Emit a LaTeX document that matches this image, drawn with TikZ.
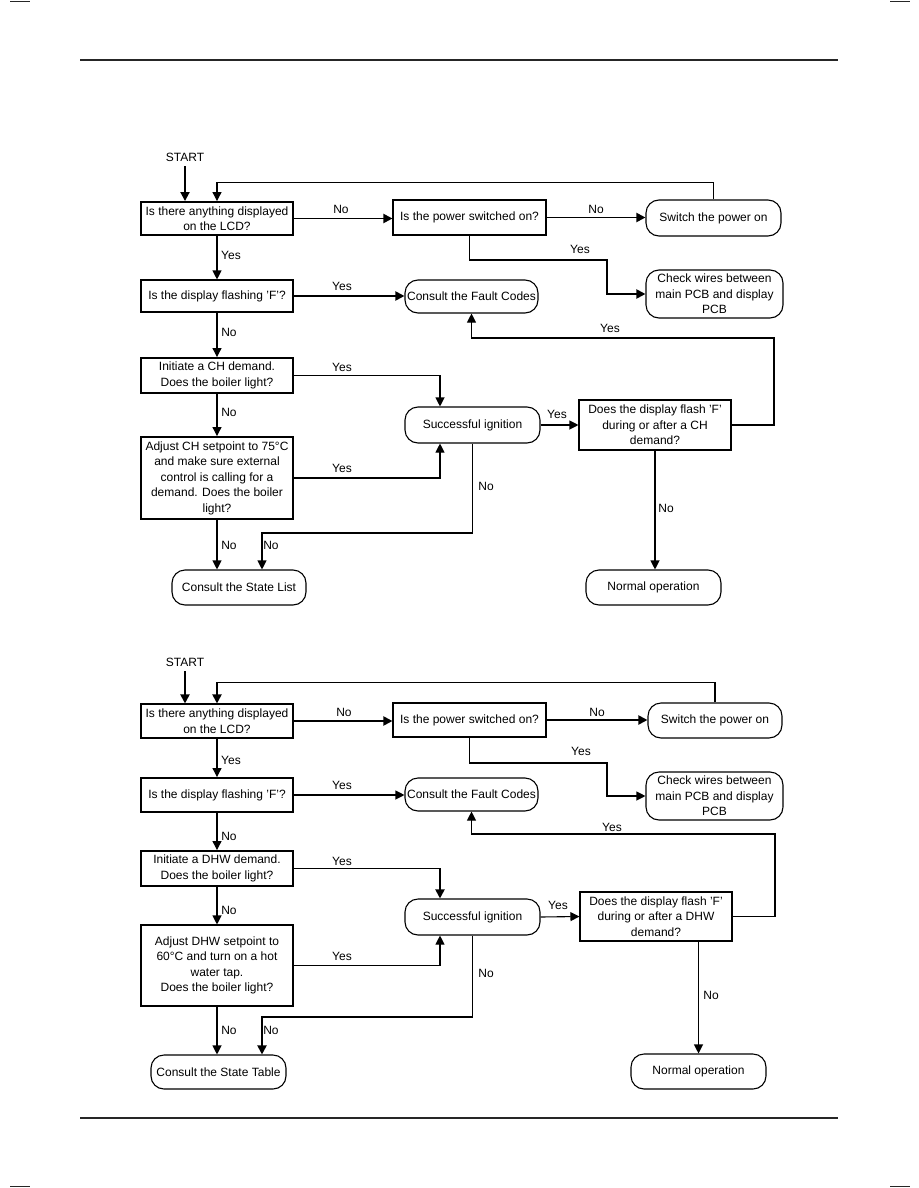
\documentclass[tikz,border=0pt]{standalone}
\usepackage{fontspec}
\setmainfont{Liberation Sans}
\usetikzlibrary{arrows.meta,calc}
\begin{document}
\begin{tikzpicture}[x=1pt,y=-1pt,
  every node/.style={font=\fontsize{12}{15.5}\selectfont, inner sep=1pt},
  base/.style={draw, line width=1.1pt, align=center, inner sep=2pt},
  boxq/.style={base, rectangle},
  boxr/.style={base, rectangle, rounded corners=13pt},
  bold/.style={line width=1.9pt},
  arr/.style={line width=1.1pt, -{Triangle[length=9pt,width=9pt]}},
  ln/.style={line width=1.1pt},
  lbl/.style={inner sep=0pt},
  frame/.style={line width=1.3pt, draw=black!85}
]
\useasboundingbox (0,0) rectangle (918,1188);
% page frame
\draw[frame] (80,60) -- (838,60);
\draw[frame] (80,1118) -- (838,1118);
\draw[frame] (10,1.5) -- (30,1.5);
\draw[frame] (890,1.5) -- (910,1.5);
\draw[frame] (10,1186.5) -- (30,1186.5);
\draw[frame] (890,1186.5) -- (910,1186.5);

% ================= TOP FLOWCHART =================
\node[lbl] (tS) at (185,157) {START};
\node[boxq, bold, minimum width=152, minimum height=33] (tA) at (217,218.5) {Is there anything displayed\\on the LCD?};
\node[boxq, minimum width=153, minimum height=35] (tB) at (469.5,217.5) {Is the power switched on?};
\node[boxr, minimum width=135, minimum height=36] (tC) at (713.5,218) {Switch the power on};
\node[boxr, minimum width=137, minimum height=48] (tD) at (714.5,294) {Check wires between\\main PCB and display\\PCB};
\node[boxq, minimum width=152, minimum height=32] (tE) at (217,296) {Is the display flashing 'F'?};
\node[boxr, minimum width=133, minimum height=33] (tF) at (471.5,296.5) {Consult the Fault Codes};
\node[boxq, bold, minimum width=152, minimum height=35] (tG) at (217,375.5) {Initiate a CH demand.\\Does the boiler light?};
\node[boxr, minimum width=135, minimum height=36] (tH) at (472.5,425) {Successful ignition};
\node[boxq, bold, minimum width=152, minimum height=82] (tI) at (217,478) {Adjust CH setpoint to 75°C\\and make sure external\\control is calling for a\\demand. Does the boiler\\light?};
\node[boxq, minimum width=152, minimum height=50] (tJ) at (655,425) {Does the display flash 'F'\\during or after a CH\\demand?};
\node[boxr, minimum width=135, minimum height=35] (tK) at (653.5,587.5) {Normal operation};
\node[boxr, minimum width=134, minimum height=35] (tL) at (239,587.5) {Consult the State List};

\coordinate (tSa) at (185,166);
\coordinate (tbd) at (607,260);
\coordinate (tjf) at (774,338);
\coordinate (thl) at (262,533);

\draw[arr, bold] (tSa) -- (tSa |- tA.north);
\draw[arr] (tC.north) -- ++(0,-17) -| (tA.north);
\draw[arr, bold] (tA.east) -- (tA.east -| tB.west);
\draw[arr, bold] (tB.east) -- (tB.east -| tC.west);
\draw[arr, bold] (tB.south) |- (tbd) |- (tD.west);
\draw[arr] (tA.south) -- (tE.north);
\draw[arr, bold] (tE.east) -- (tE.east -| tF.west);
\draw[arr] (tE.south) -- (tG.north);
\draw[arr] (tG.east) -| ([xshift=-32.5]tH.north);
\draw[arr] (tG.south) -- (tI.north);
\draw[arr] (tI.east) -| ([xshift=-32.5]tH.south);
\draw[arr] (tH.east) -- (tJ.west);
\draw[arr] (tJ.east) -| (tjf) -| (tF.south);
\draw[arr] (tJ.south) -- (tJ.south |- tK.north);
\draw[arr] (tI.south) -- (tI.south |- tL.north);
\draw[arr] (tH.south) |- (thl) -- (thl |- tL.north);

\node[lbl] (tl1) at (341,209) {No};
\node[lbl] (tl2) at (596,209) {No};
\node[lbl] (tl3) at (580,249) {Yes};
\node[lbl] (tl4) at (231,255) {Yes};
\node[lbl] (tl5) at (342,286) {Yes};
\node[lbl] (tl6) at (229,332) {No};
\node[lbl] (tl7) at (342,367) {Yes};
\node[lbl] (tl8) at (229,412) {No};
\node[lbl] (tl9) at (342,468) {Yes};
\node[lbl] (tl10) at (557,414) {Yes};
\node[lbl] (tl11) at (610,328) {Yes};
\node[lbl] (tl12) at (486,486) {No};
\node[lbl] (tl13) at (666,508) {No};
\node[lbl] (tl14) at (229,545) {No};
\node[lbl] (tl15) at (271,545) {No};

% ================= BOTTOM FLOWCHART =================
\node[lbl] (bS) at (185,662) {START};
\node[boxq, minimum width=152, minimum height=34] (bA) at (217,721) {Is there anything displayed\\on the LCD?};
\node[boxq, minimum width=153, minimum height=34] (bB) at (469.5,720) {Is the power switched on?};
\node[boxr, minimum width=134, minimum height=35] (bC) at (715,720.5) {Switch the power on};
\node[boxr, minimum width=137, minimum height=48] (bD) at (714.5,796) {Check wires between\\main PCB and display\\PCB};
\node[boxq, bold, minimum width=152, minimum height=34] (bE) at (217,795) {Is the display flashing 'F'?};
\node[boxr, minimum width=133, minimum height=33] (bF) at (471.5,794.5) {Consult the Fault Codes};
\node[boxq, bold, minimum width=152, minimum height=35] (bG) at (217,868.5) {Initiate a DHW demand.\\Does the boiler light?};
\node[boxr, minimum width=135, minimum height=36] (bH) at (472.5,917) {Successful ignition};
\node[boxq, minimum width=152, minimum height=81] (bI) at (217,965.5) {Adjust DHW setpoint to\\60°C and turn on a hot\\water tap.\\Does the boiler light?};
\node[boxq, minimum width=152, minimum height=49] (bJ) at (656,916.5) {Does the display flash 'F'\\during or after a DHW\\demand?};
\node[boxr, minimum width=135, minimum height=35] (bK) at (698.5,1071.5) {Normal operation};
\node[boxr, minimum width=135, minimum height=34] (bL) at (218.5,1072) {Consult the State Table};

\coordinate (bSa) at (185,671);
\coordinate (bbd) at (607,763);
\coordinate (bjf) at (775,834);
\coordinate (bhl) at (262,1017);

\draw[arr, bold] (bSa) -- (bSa |- bA.north);
\draw[arr, bold] (bC.north) -- ++(0,-20) -| (bA.north);
\draw[arr, bold] (bA.east) -- (bA.east -| bB.west);
\draw[arr, bold] (bB.east) -- (bB.east -| bC.west);
\draw[arr] (bB.south) |- (bbd) |- (bD.west);
\draw[arr] (bA.south) -- (bE.north);
\draw[arr] (bE.east) -- (bE.east -| bF.west);
\draw[arr] (bE.south) -- (bG.north);
\draw[arr, bold] (bG.east) -| ([xshift=-32.5]bH.north);
\draw[arr] (bG.south) -- (bI.north);
\draw[arr] (bI.east) -| ([xshift=-32.5]bH.south);
\draw[arr] (bH.east) -- (bJ.west);
\draw[arr] (bJ.east) -| (bjf) -| (bF.south);
\draw[arr] (bJ.south -| bK.north) -- (bK.north);
\draw[arr] (bI.south) -- (bI.south |- bL.north);
\draw[arr, bold] (bH.south) |- (bhl) -- (bhl |- bL.north);

\node[lbl] (bl1) at (344,712) {No};
\node[lbl] (bl2) at (597,712) {No};
\node[lbl] (bl3) at (581,751) {Yes};
\node[lbl] (bl4) at (231,760) {Yes};
\node[lbl] (bl5) at (342,785) {Yes};
\node[lbl] (bl6) at (229,836) {No};
\node[lbl] (bl7) at (342,861) {Yes};
\node[lbl] (bl8) at (229,910) {No};
\node[lbl] (bl9) at (342,956) {Yes};
\node[lbl] (bl10) at (558,905) {Yes};
\node[lbl] (bl11) at (612,827) {Yes};
\node[lbl] (bl12) at (486,973) {No};
\node[lbl] (bl13) at (711,995) {No};
\node[lbl] (bl14) at (229,1030) {No};
\node[lbl] (bl15) at (271,1030) {No};
\end{tikzpicture}
\end{document}
